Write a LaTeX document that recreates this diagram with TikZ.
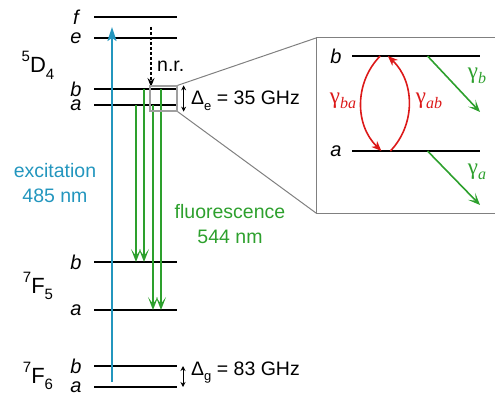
\documentclass[tikz,border=0pt]{standalone}
\usepackage{fontspec}
\setmainfont{Liberation Sans}
\newfontfamily\grfont{Liberation Serif}
\usetikzlibrary{arrows.meta, calc, positioning}
\definecolor{excblue}{RGB}{35,150,190}
\definecolor{flgreen}{RGB}{45,160,45}
\definecolor{rtred}{RGB}{220,25,25}
\newcommand{\termsym}[3]{\raisebox{0.5em}{\fontsize{15}{15}\selectfont #1}#2\raisebox{-0.3em}{\fontsize{15}{15}\selectfont #3}}
\newcommand{\rate}[1]{{\grfont\fontsize{23}{25}\selectfont γ\raisebox{-0.2em}{\fontsize{16}{16}\selectfont\itshape #1}}}
\newcommand{\gapsym}[1]{Δ\raisebox{-0.3em}{\fontsize{13}{13}\selectfont #1}}

\begin{document}
\begin{tikzpicture}[x=1pt, y=-1pt,
    every node/.style={font=\fontsize{19.5}{25}\selectfont, inner sep=0pt},
    level/.style={line width=1.3pt, black},
    sublvl/.style={font=\fontsize{20}{25}\selectfont\itshape},
    term/.style={font=\fontsize{22}{24}\selectfont, anchor=base},
    exc/.style={-{Stealth[length=14pt, width=9pt, inset=3pt]}, line width=2pt, excblue},
    fl/.style={-{Stealth[length=13pt, width=10pt, inset=7pt]}, line width=1.8pt, flgreen},
    decay/.style={-{Stealth[length=12pt, width=10pt, inset=6pt]}, line width=1.6pt, flgreen},
    rt/.style={-{Stealth[length=10pt, width=8pt, inset=3pt]}, line width=1.6pt, rtred},
    nr/.style={-{Stealth[length=9pt, width=7pt, inset=3pt]}, line width=1.2pt, dash pattern=on 3pt off 2pt},
    gap/.style={{Stealth[length=5pt, width=5pt]}-{Stealth[length=5pt, width=5pt]}, line width=1pt},
    zoomline/.style={draw=gray, line width=1pt}
]
\useasboundingbox (0,0) rectangle (495,393);

% Energieniveaus
\foreach \n/\y/\t in {f/17/f, e/38/e, Db/89/b, Da/105/a, Fb/262/b, Fa/310/a, Gb/366/b, Ga/387/a}{
    \draw[level] (94,\y) coordinate (\n-L) -- (177,\y) coordinate (\n-R);
    \node[sublvl] (\n-lab) at (76,\y) {\t};
}

% Termsymbole
\node[term] (D4) at (38,73) {\termsym{5}{D}{4}};
\node[term] (F5) at (38,293) {\termsym{7}{F}{5}};
\node[term] (F6) at (38,383) {\termsym{7}{F}{6}};

% Anregung
\coordinate (exbot) at (112,382);
\coordinate (extop) at (112,27);
\draw[exc] (exbot) -- (extop);
\node[align=center, text=excblue] (exlab) at (55,183) {excitation\\485 nm};

% nichtstrahlender Zerfall
\coordinate (nrtop) at (151,27);
\draw[nr] (nrtop) -- ([yshift=2pt]nrtop |- Db-L);
\node[anchor=base west] (nrlab) at (157,72) {n.r.};

% Fluoreszenz
\coordinate (g1) at (136,0);
\coordinate (g2) at (144,0);
\coordinate (g3) at (153,0);
\coordinate (g4) at (161,0);
\draw[fl] (g1 |- Da-L) -- (g1 |- Fb-L);
\draw[fl] (g2 |- Db-L) -- (g2 |- Fb-L);
\draw[fl] (g3 |- Da-L) -- (g3 |- Fa-L);
\draw[fl] (g4 |- Db-L) -- (g4 |- Fa-L);
\node[align=center, text=flgreen] (fllab) at (230,224) {fluorescence\\544 nm};

% Aufspaltungen
\node[draw=gray!75, line width=1.3pt, minimum width=27pt, minimum height=25pt] (zsmall) at (163.5,98.5) {};
\draw[gap] ([xshift=6pt]zsmall.north east) -- ([xshift=6pt]zsmall.south east);
\node[anchor=base west] (delE) at (191,105) {\gapsym{e} = 35 GHz};
\draw[gap] ([xshift=6pt]Gb-R) -- ([xshift=6pt]Ga-R);
\node[anchor=base west] (delG) at (191,375) {\gapsym{g} = 83 GHz};

% Vergroesserung
\coordinate (btl) at (316,38);
\coordinate (bbl) at (316,213);
\coordinate (btr) at (497,38);
\coordinate (bbr) at (497,213);
\draw[zoomline] (btr) -- (btl) -- (bbl) -- (bbr);
\draw[zoomline] (zsmall.north east) -- (btl);
\draw[zoomline] (zsmall.south east) -- (bbl);

\draw[level] (352,56) coordinate (zb-L) -- (480,56) coordinate (zb-R);
\draw[level] (352,151) coordinate (za-L) -- (480,151) coordinate (za-R);
\node[sublvl] (zblab) at (336,56) {b};
\node[sublvl] (zalab) at (336,151) {a};

% Raten
\draw[rt] ($(zb-L)!0.22!(zb-R)$) to[bend right=45] ($(za-L)!0.23!(za-R)$);
\draw[rt] ($(za-L)!0.30!(za-R)$) to[bend right=45] ($(zb-L)!0.28!(zb-R)$);
\node[text=rtred] (gba) at (343,101) {\rate{ba}};
\node[text=rtred] (gab) at (429,101) {\rate{ab}};

\coordinate (gbend) at (480,112);
\coordinate (gaend) at (480,205);
\draw[decay] ($(zb-L)!0.59!(zb-R)$) -- (gbend);
\draw[decay] ($(za-L)!0.59!(za-R)$) -- (gaend);
\node[text=flgreen] (gb) at (477,76) {\rate{b}};
\node[text=flgreen] (ga) at (477,172) {\rate{a}};

\end{tikzpicture}
\end{document}
